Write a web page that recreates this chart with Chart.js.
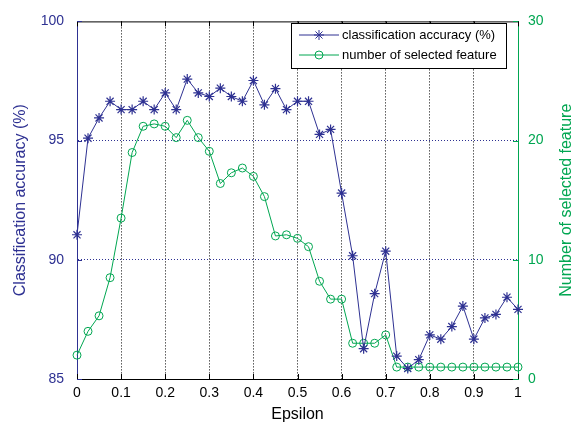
<!DOCTYPE html>
<html>
<head>
<meta charset="utf-8">
<script src="https://cdn.jsdelivr.net/npm/chart.js@4/dist/chart.umd.min.js"></script>
<style>
  html, body { margin: 0; padding: 0; background: #fff; }
  #wrap { width: 575px; height: 432px; }
</style>
</head>
<body>
<div id="wrap"><canvas id="c" width="575" height="432"></canvas></div>
<script>
// Epsilon values along the x axis
const epsilon = [0, 0.025, 0.05, 0.075, 0.1, 0.125, 0.15, 0.175, 0.2, 0.225,
  0.25, 0.275, 0.3, 0.325, 0.35, 0.375, 0.4, 0.425, 0.45, 0.475,
  0.5, 0.525, 0.55, 0.575, 0.6, 0.625, 0.65, 0.675, 0.7, 0.725,
  0.75, 0.775, 0.8, 0.825, 0.85, 0.875, 0.9, 0.925, 0.95, 0.975, 1];

// Classification accuracy (%) per epsilon
const accuracy = [91.05, 95.1, 95.95, 96.65, 96.3, 96.3, 96.65, 96.3, 97.0, 96.3,
  97.58, 97.0, 96.85, 97.2, 96.85, 96.65, 97.52, 96.5, 97.18, 96.3,
  96.65, 96.65, 95.26, 95.47, 92.8, 90.17, 86.27, 88.58, 90.36, 85.96,
  85.44, 85.81, 86.85, 86.67, 87.2, 88.06, 86.67, 87.56, 87.71, 88.43, 87.92];

// Number of selected features per epsilon
const features = [2, 4, 5.3, 8.5, 13.5, 19, 21.2, 21.4, 21.2, 20.25,
  21.7, 20.25, 19.1, 16.4, 17.3, 17.7, 17.0, 15.3, 12.0, 12.1,
  11.8, 11.1, 8.2, 6.7, 6.7, 3, 3, 3, 3.7, 1,
  1, 1, 1, 1, 1, 1, 1, 1, 1, 1, 1];

const seriesNames = ['classification accuracy (%)', 'number of selected feature'];
const rightTitle = 'Number of selected feature';
const xTicks = [0, 0.1, 0.2, 0.3, 0.4, 0.5, 0.6, 0.7, 0.8, 0.9, 1];
const leftTicks = [85, 90, 95, 100];
const rightTicks = [0, 10, 20, 30];

const BLUE = '#2e3192';
const GREEN = '#00a651';
const FONT = 'Liberation Sans, Arial, Helvetica, sans-serif';

// Top frame line and MATLAB-style inward tick marks
const framePlugin = {
  id: 'frame',
  afterDatasetsDraw(chart) {
    const { ctx, chartArea: a, scales } = chart;
    const len = 5;
    ctx.save();
    ctx.lineWidth = 1;
    ctx.strokeStyle = '#000';
    ctx.beginPath();
    ctx.moveTo(a.left, a.top + 0.5);
    ctx.lineTo(a.right, a.top + 0.5);
    ctx.stroke();
    ctx.beginPath();
    xTicks.forEach(v => {
      const px = Math.round(scales.x.getPixelForValue(v)) + 0.5;
      ctx.moveTo(px, a.bottom); ctx.lineTo(px, a.bottom - len);
      ctx.moveTo(px, a.top); ctx.lineTo(px, a.top + len);
    });
    ctx.stroke();
    ctx.strokeStyle = BLUE;
    ctx.beginPath();
    leftTicks.forEach(v => {
      const py = Math.round(scales.y.getPixelForValue(v)) + 0.5;
      ctx.moveTo(a.left, py); ctx.lineTo(a.left + len, py);
    });
    ctx.stroke();
    ctx.strokeStyle = GREEN;
    ctx.beginPath();
    rightTicks.forEach(v => {
      const py = Math.round(scales.y2.getPixelForValue(v)) + 0.5;
      ctx.moveTo(a.right, py); ctx.lineTo(a.right - len, py);
    });
    ctx.stroke();
    ctx.restore();
  }
};

// Right-hand axis title, reading bottom-to-top like the left one
const rightTitlePlugin = {
  id: 'rightTitle',
  afterDraw(chart) {
    const { ctx, chartArea: a } = chart;
    ctx.save();
    ctx.translate(567, (a.top + a.bottom) / 2);
    ctx.rotate(-Math.PI / 2);
    ctx.fillStyle = GREEN;
    ctx.font = '16px ' + FONT;
    ctx.textAlign = 'center';
    ctx.textBaseline = 'middle';
    ctx.fillText(rightTitle, 0, 0);
    ctx.restore();
  }
};

// Boxed legend in the upper right of the plot
const boxLegendPlugin = {
  id: 'boxLegend',
  afterDraw(chart) {
    const { ctx } = chart;
    const box = { x: 291, y: 23, w: 215, h: 45 };
    ctx.save();
    ctx.fillStyle = '#fff';
    ctx.fillRect(box.x, box.y, box.w, box.h);
    ctx.lineWidth = 1;
    ctx.strokeStyle = '#000';
    ctx.strokeRect(box.x + 0.5, box.y + 0.5, box.w, box.h);
    const rows = [35, 55];
    chart.data.datasets.forEach((ds, i) => {
      const y = rows[i];
      ctx.strokeStyle = ds.borderColor;
      ctx.lineWidth = 1;
      ctx.beginPath();
      ctx.moveTo(299, y); ctx.lineTo(339, y);
      ctx.stroke();
      ctx.fillStyle = 'rgba(0,0,0,0)';
      ctx.strokeStyle = ds.pointBorderColor;
      Chart.helpers.drawPoint(ctx, {
        pointStyle: ds.pointStyle, radius: ds.pointRadius, rotation: 0,
        borderWidth: 1
      }, 319, y);
      ctx.fillStyle = '#000';
      ctx.font = '13px ' + FONT;
      ctx.textBaseline = 'middle';
      ctx.textAlign = 'left';
      ctx.fillText(seriesNames[i], 342, y);
    });
    ctx.restore();
  }
};

new Chart(document.getElementById('c'), {
  type: 'line',
  data: {
    datasets: [
      {
        label: seriesNames[0],
        data: epsilon.map((e, i) => ({ x: e, y: accuracy[i] })),
        yAxisID: 'y',
        borderColor: BLUE,
        backgroundColor: 'rgba(0,0,0,0)',
        borderWidth: 1,
        pointStyle: 'star',
        pointRadius: 5,
        pointBorderColor: BLUE,
        pointBorderWidth: 1.2,
        tension: 0,
        clip: false,
        order: 0
      },
      {
        label: seriesNames[1],
        data: epsilon.map((e, i) => ({ x: e, y: features[i] })),
        yAxisID: 'y2',
        borderColor: GREEN,
        backgroundColor: 'rgba(0,0,0,0)',
        borderWidth: 1,
        pointStyle: 'circle',
        pointRadius: 4,
        pointBorderColor: GREEN,
        pointBackgroundColor: 'rgba(0,0,0,0)',
        pointBorderWidth: 1,
        tension: 0,
        clip: false,
        order: 1
      }
    ]
  },
  options: {
    responsive: false,
    animation: false,
    devicePixelRatio: 1,
    layout: { padding: { top: 16, left: 0, right: 0, bottom: 0 } },
    plugins: {
      legend: { display: false },
      tooltip: { enabled: false }
    },
    scales: {
      x: {
        type: 'linear',
        position: 'bottom',
        min: 0, max: 1,
        afterBuildTicks: s => { s.ticks = xTicks.map(v => ({ value: v })); },
        afterFit: s => { s.height = 53; },
        ticks: {
          color: '#000',
          font: { family: FONT, size: 14 },
          padding: 6,
          maxRotation: 0,
          callback: v => String(Math.round(v * 10) / 10)
        },
        grid: {
          drawTicks: false,
          lineWidth: 1,
          color: c => (c.tick && c.tick.value > 0.001 && c.tick.value < 0.999) ? '#000' : 'rgba(0,0,0,0)'
        },
        border: { color: '#000', width: 1, dash: [1, 2] },
        title: {
          display: true, text: 'Epsilon', color: '#000',
          font: { family: FONT, size: 16 }, padding: { top: 0, bottom: 8 }
        }
      },
      y: {
        position: 'left',
        min: 85, max: 100,
        afterBuildTicks: s => { s.ticks = leftTicks.map(v => ({ value: v })); },
        afterFit: s => { s.width = 77; },
        ticks: {
          color: BLUE,
          font: { family: FONT, size: 14 },
          padding: 13
        },
        grid: {
          drawTicks: false,
          lineWidth: 1,
          color: c => (c.tick && (c.tick.value === 90 || c.tick.value === 95)) ? BLUE : 'rgba(0,0,0,0)'
        },
        border: { color: BLUE, width: 1, dash: [1, 2] },
        title: {
          display: true, text: 'Classification accuracy (%)', color: BLUE,
          font: { family: FONT, size: 16 }, padding: { top: 11, bottom: 0 }
        }
      },
      y2: {
        position: 'right',
        min: 0, max: 30,
        afterBuildTicks: s => { s.ticks = rightTicks.map(v => ({ value: v })); },
        afterFit: s => { s.width = 57; },
        ticks: {
          color: GREEN,
          font: { family: FONT, size: 14 },
          padding: 10
        },
        grid: { display: false, drawTicks: false },
        border: { color: GREEN, width: 1 },
        title: { display: false }
      }
    }
  },
  plugins: [framePlugin, boxLegendPlugin, rightTitlePlugin]
});
</script>
</body>
</html>
